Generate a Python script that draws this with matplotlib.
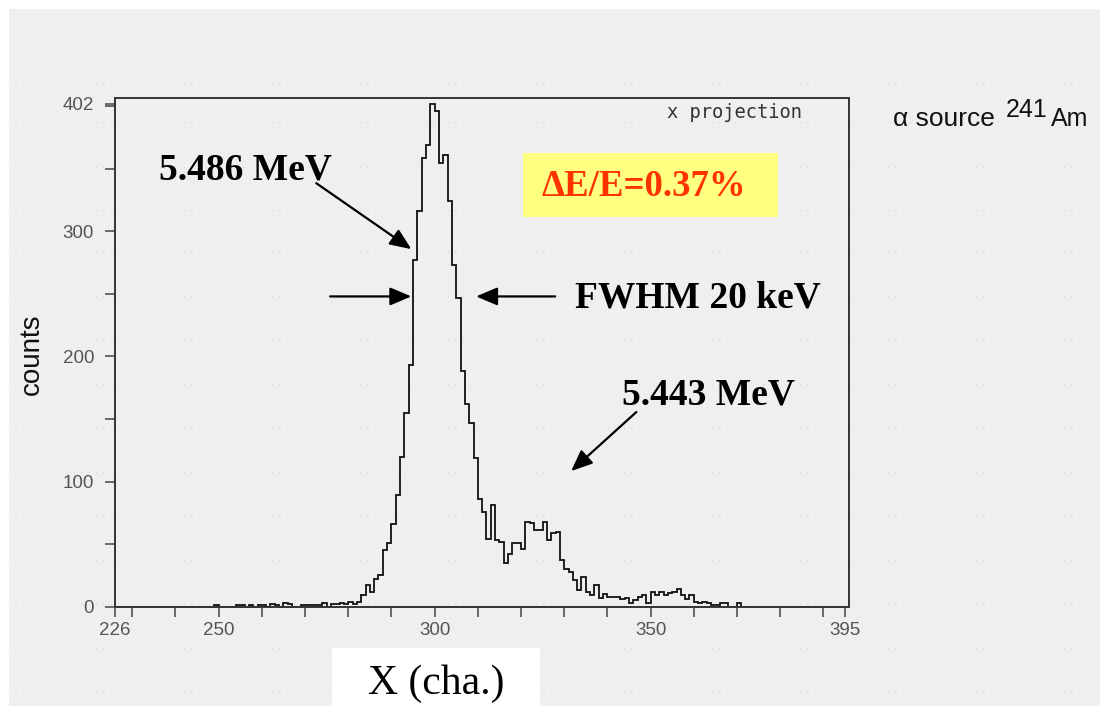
import numpy as np
import matplotlib
matplotlib.use("Agg")
import matplotlib.pyplot as plt
from matplotlib.patches import Rectangle
from matplotlib.lines import Line2D

# ---------------- data ----------------
bin_start = 226
counts = (
    [0] * 23                                  # 226-248
    + [1, 0, 0, 0, 0, 1, 1, 0, 1, 0, 1, 1, 0, 2, 1, 0, 3, 2, 0, 0]   # 249-268
    + [1, 1, 1, 1, 1, 3, 0, 2, 2, 3, 2, 4, 2, 4]                   # 269-282
    + [9, 17, 12, 22, 25, 45, 51, 66, 89, 120, 155]                  # 283-293
    + [193, 277, 316, 359, 369, 402, 396, 355, 361, 324, 273, 247, 188]  # 294-306
    + [162, 147, 119, 86, 76, 54, 81, 53, 52, 35, 42, 51, 51, 46]    # 307-320
    + [68, 67, 61, 61, 68, 53, 59, 60, 37, 30, 28, 21, 13, 24, 12, 9, 17]  # 321-337
    + [7, 10, 8, 8, 8, 6, 7, 3, 5, 8, 9, 3, 12, 9, 12, 9, 11, 12, 14, 9,
       6, 9, 4, 3, 4, 3, 1, 1, 3, 3, 0, 0, 3, 0]                     # 338-371
)
edges = np.arange(bin_start, bin_start + len(counts) + 1)

x_ticks = [226, 230, 240, 250, 260, 270, 280, 290, 300, 310, 320, 330, 340,
           350, 360, 370, 380, 390, 395]
x_labels = {226: "226", 250: "250", 300: "300", 350: "350", 395: "395"}
y_ticks = [0, 50, 100, 150, 200, 250, 300, 350, 400, 402]
y_labels = {0: "0", 100: "100", 200: "200", 300: "300", 402: "402"}

# ---------------- figure ----------------
W, H = 1100, 706
fig = plt.figure(figsize=(W / 100, H / 100), dpi=100, facecolor="white")

def fx(px):
    return px / W

def fy(py):
    return 1 - py / H

# gray slide background with a white margin at top/left
fig.patches.append(Rectangle((fx(9), 0), 1 - fx(9), fy(9), transform=fig.transFigure,
                             facecolor="#efefef", edgecolor="none", zorder=-10))

# dotted texture rows
for py in [83, 122, 167, 210, 252, 296, 340, 384, 428, 472, 516, 560, 604, 648, 692]:
    fig.lines.append(Line2D([fx(15), 1], [fy(py), fy(py)], transform=fig.transFigure,
                            color="#c9c9c9", lw=0.8, ls=(0, (0.6, 6)), zorder=-5))

ax = fig.add_axes([fx(115), fy(606.7), fx(849.3) - fx(115), fy(97.5) - fy(606.7)])
ax.set_facecolor("none")
ax.stairs(counts, edges, color="#111111", lw=1.3)

ax.set_xlim(226, 396)
ax.set_ylim(0, 407)
ax.set_xticks(x_ticks)
ax.set_xticklabels([x_labels.get(t, "") for t in x_ticks])
ax.set_yticks(y_ticks)
ax.set_yticklabels([y_labels.get(t, "") for t in y_ticks])
ax.tick_params(axis="both", direction="out", length=7, width=1.1, color="#444444",
               labelcolor="#555555", labelsize=13.5)
ax.tick_params(axis="x", pad=4)
ax.tick_params(axis="y", pad=8)
for lab in ax.get_xticklabels() + ax.get_yticklabels():
    lab.set_family("Liberation Sans")
for sp in ax.spines.values():
    sp.set_color("#333333")
    sp.set_linewidth(1.4)

# ---------------- texts ----------------
serif = "Liberation Serif"
ax.text(236.1, 348.8, "5.486 MeV", family=serif, weight="bold", fontsize=27,
        ha="left", va="center", color="black")
ax.text(332.6, 246.6, "FWHM 20 keV", family=serif, weight="bold", fontsize=27,
        ha="left", va="center", color="black")
ax.text(343.4, 169, "5.443 MeV", family=serif, weight="bold", fontsize=27,
        ha="left", va="center", color="black")

fig.patches.append(Rectangle((fx(523), fy(217)), fx(778) - fx(523), fy(153) - fy(217),
                             transform=fig.transFigure, facecolor="#ffff80",
                             edgecolor="none", zorder=1))
fig.text(fx(644), fy(187), "ΔE/E=0.37%", family=serif, weight="bold", fontsize=26.5,
         ha="center", va="center", color="#ff3300", zorder=3)

fig.text(fx(667), fy(113), "x projection", family="DejaVu Sans Mono", fontsize=13.5,
         ha="left", va="center", color="#333333")

fig.text(fx(893), fy(126), "α source", family="Liberation Sans", fontsize=19,
         ha="left", va="baseline", color="#111111")
fig.text(fx(1006), fy(117), "241", family="Liberation Sans", fontsize=18,
         ha="left", va="baseline", color="#111111")
fig.text(fx(1051), fy(126), "Am", family="Liberation Sans", fontsize=18,
         ha="left", va="baseline", color="#111111")

fig.text(fx(32), fy(354), "counts", family="Liberation Sans", fontsize=20,
         rotation=90, ha="center", va="center", color="#111111")

fig.patches.append(Rectangle((fx(332), 0), fx(540) - fx(332), fy(648),
                             transform=fig.transFigure, facecolor="white",
                             edgecolor="none", zorder=1))
fig.text(fx(436), fy(684), "X (cha.)", family=serif, fontsize=30,
         ha="center", va="center", color="black", zorder=3)

# ---------------- arrows ----------------
aprops = dict(arrowstyle="-|>,head_length=1.3,head_width=0.55", color="black",
              lw=1.6, shrinkA=0, shrinkB=0)
ax.annotate("", xy=(294.6, 285.8), xytext=(272.6, 338.5), arrowprops=aprops)
ax.annotate("", xy=(294.6, 248), xytext=(275.8, 248), arrowprops=aprops)
ax.annotate("", xy=(309.6, 248), xytext=(327.9, 248), arrowprops=aprops)
ax.annotate("", xy=(331.6, 108.4), xytext=(346.7, 155.6), arrowprops=aprops)

fig.savefig("out.png", dpi=100, facecolor=fig.get_facecolor())
